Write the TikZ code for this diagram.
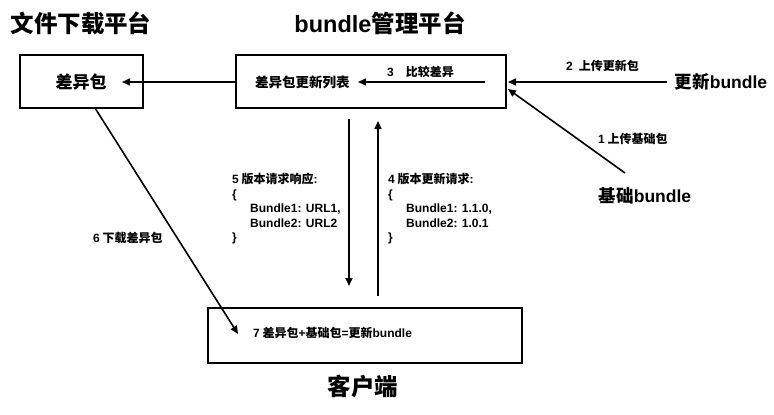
\documentclass[tikz,border=0pt]{standalone}
\usepackage{fontspec}
\setmainfont{Noto Sans CJK SC}
\newfontfamily\lt{Liberation Sans}
\usetikzlibrary{arrows.meta}
\begin{document}
\begin{tikzpicture}[x=1pt,y=-1pt,
  box/.style={draw,line width=2pt},
  arr/.style={line width=1.6pt,-{Triangle[length=8pt,width=7pt]}},
  lbl/.style={font=\fontsize{12}{14.5}\selectfont\bfseries,inner sep=0pt},
  title/.style={font=\fontsize{23.5}{26}\selectfont\bfseries,inner sep=0pt},
  mid/.style={font=\fontsize{17.5}{20}\selectfont\bfseries,inner sep=0pt}]
\useasboundingbox (0,0) rectangle (774,415);
% titles
\node[title] (t1) at (81,23) {文件下载平台};
\node[title] (t2) at (380,23) {{\lt bundle}管理平台};
\node[title] (t3) at (363,387) {客户端};
% boxes
\node[box,minimum width=123pt,minimum height=53pt,inner sep=0pt] (b1) at (81.5,81.5) {};
\node[inner sep=0pt,font=\fontsize{17}{20}\selectfont\bfseries] (d1) at (81,82) {差异包};
\node[box,minimum width=270pt,minimum height=53pt,inner sep=0pt] (b2) at (371,81.5) {};
\node[lbl,anchor=west,font=\fontsize{13.5}{16}\selectfont\bfseries] (d2) at (255,82) {差异包更新列表};
\node[box,minimum width=314pt,minimum height=55pt,inner sep=0pt] (b3) at (365,335.5) {};
\node[lbl,anchor=west] (d3) at (253,333) {{\lt 7} 差异包{\lt +}基础包{\lt =}更新{\lt bundle}};
% external
\node[mid] (u) at (721,82) {更新{\lt bundle}};
\node[mid] (j) at (645,196) {基础{\lt bundle}};
% coordinates
\coordinate (a2s) at (667,82);
\coordinate (a2e) at (508,82);
\coordinate (a1s) at (625,173);
\coordinate (a1e) at (508,89);
\coordinate (a3s) at (485,82);
\coordinate (a3e) at (358,82);
\coordinate (a0s) at (236,82);
\coordinate (a0e) at (122,82);
\coordinate (a5s) at (349,119);
\coordinate (a5e) at (349,286);
\coordinate (a4s) at (378,296);
\coordinate (a4e) at (378,121);
\coordinate (a6s) at (95,108);
\coordinate (a6e) at (238,334);
% arrows
\draw[arr] (a2s) -- (a2e);
\draw[arr] (a1s) -- (a1e);
\draw[arr] (a3s) -- (a3e);
\draw[arr] (a0s) -- (a0e);
\draw[arr] (a5s) -- (a5e);
\draw[arr] (a4s) -- (a4e);
\draw[arr] (a6s) -- (a6e);
% labels
\node[lbl,anchor=west] (l2) at (566,66) {{\lt 2}\hspace{6pt}上传更新包};
\node[lbl,anchor=west] (l1) at (598,139) {{\lt 1} 上传基础包};
\node[lbl,anchor=west] (l3) at (387,72) {{\lt 3}\hspace{12pt}比较差异};
\node[lbl,anchor=west] (l6) at (93,238) {{\lt 6} 下载差异包};
\node[lbl,anchor=north west,align=left] (l5) at (232,173) {{\lt 5} 版本请求响应{\lt :}\\{\lt\{}\\\hspace{18pt}{\lt Bundle1: URL1,}\\\hspace{18pt}{\lt Bundle2: URL2}\\{\lt\}}};
\node[lbl,anchor=north west,align=left] (l4) at (388,173) {{\lt 4} 版本更新请求{\lt :}\\{\lt\{}\\\hspace{18pt}{\lt Bundle1: 1.1.0,}\\\hspace{18pt}{\lt Bundle2: 1.0.1}\\{\lt\}}};
\end{tikzpicture}
\end{document}
